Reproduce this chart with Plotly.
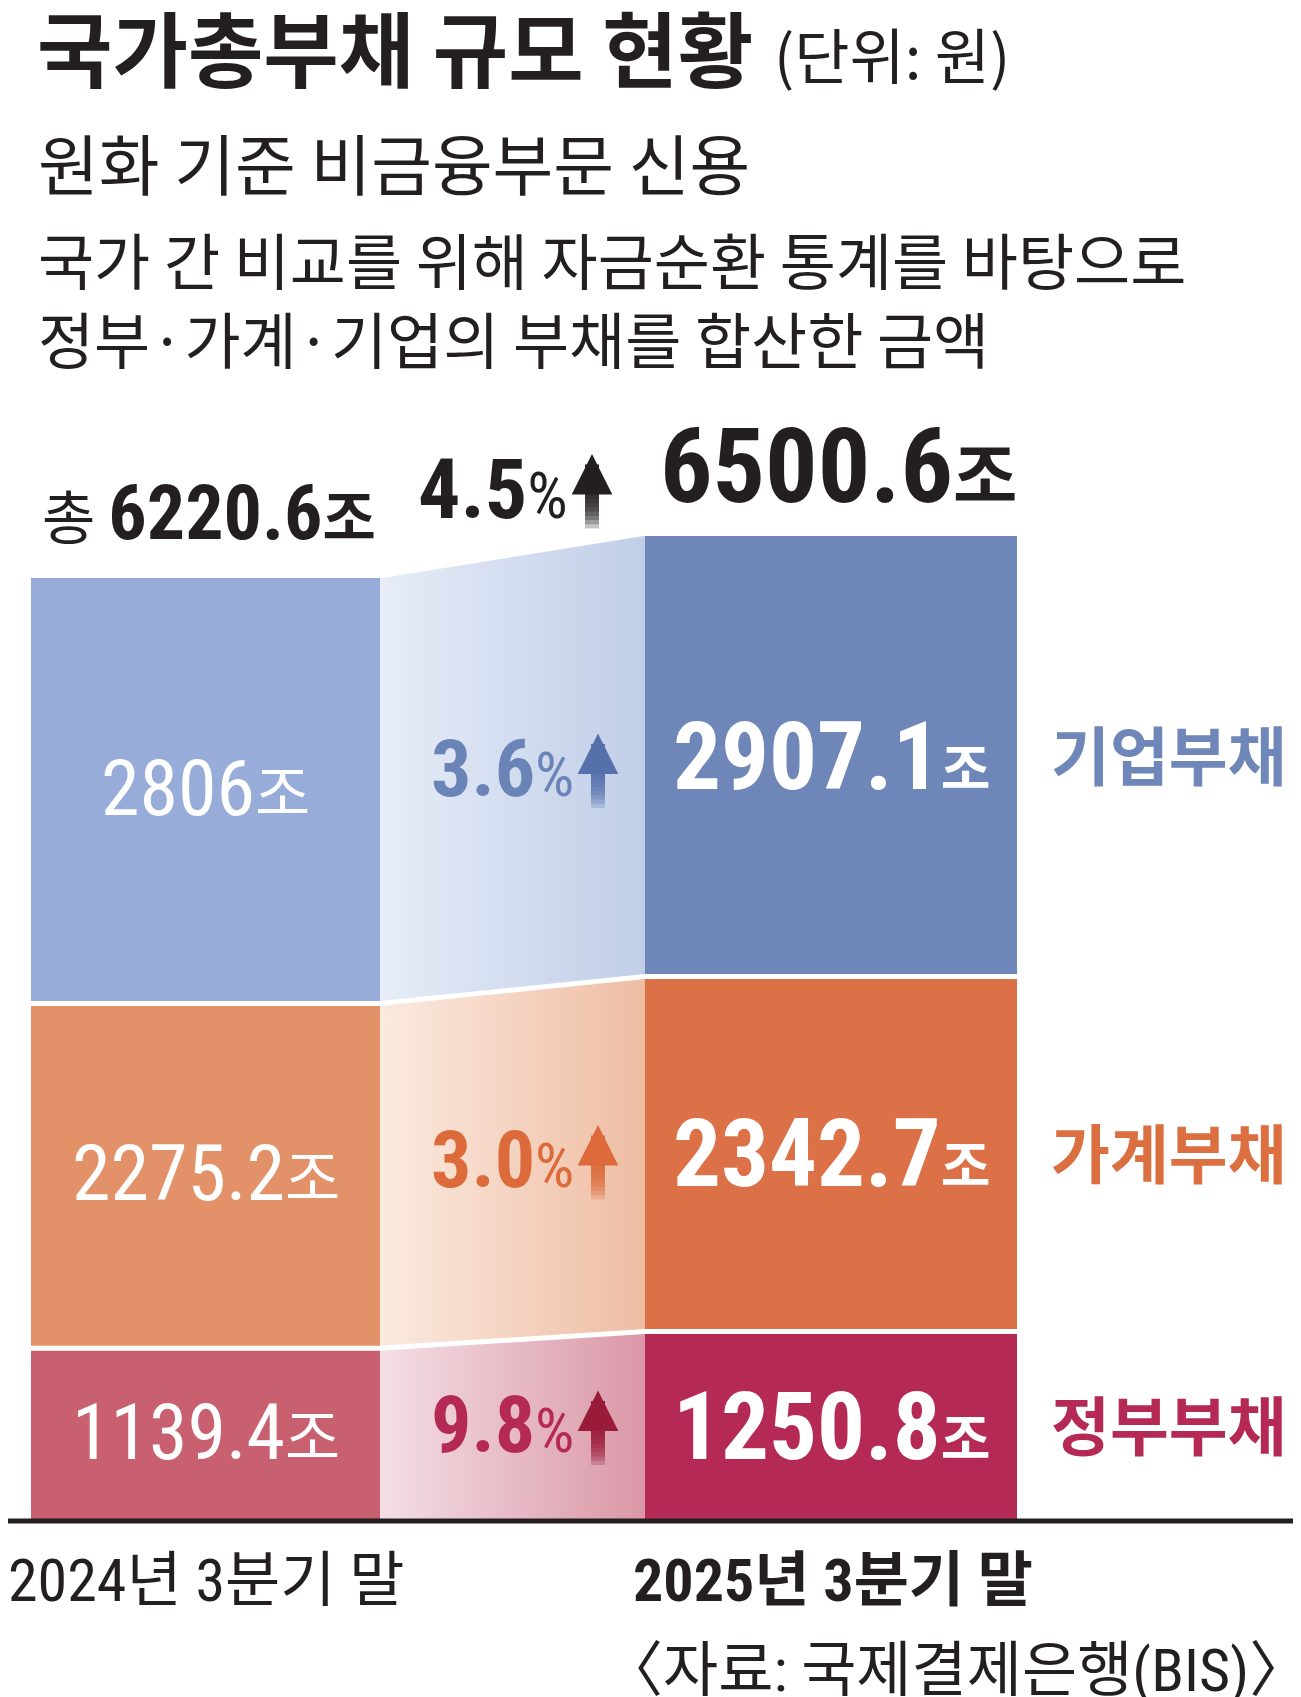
import plotly.graph_objects as go

# 국가총부채 (단위: 조 원), 아래에서부터 쌓는 순서
sectors = ["정부부채", "가계부채", "기업부채"]
debt_2024 = [1139.4, 2275.2, 2806.0]
debt_2025 = [1250.8, 2342.7, 2907.1]
growth = [9.8, 3.0, 3.6]          # 전년 동기 대비 증가율(%)
total_2024 = 6220.6
total_2025 = 6500.6
total_growth = 4.5
periods = ["2024년 3분기 말", "2025년 3분기 말"]

# 색
left_colors = ["#c86070", "#e29169", "#97acd8"]
right_colors = ["#b52a55", "#dc7046", "#6e87b8"]
link_light = ["#f4dfe4", "#fbeae0", "#e7ecf7"]
link_dark = ["#da97a7", "#eebda3", "#c0cee8"]
pct_colors = ["#b52a55", "#dc6a3a", "#6b84b8"]
arrow_rgb = [(154, 26, 58), (220, 106, 58), (85, 112, 171)]
label_colors = ["#b52a55", "#dc6f40", "#6e87b8"]
INK = "#231f20"

# 판 크기와 위치 (px)
W, H = 1301, 1697
BASE = 1513          # y=0 이 놓이는 높이
SCALE = 0.15155      # 1조 원당 px
LEFT = (23, 372)
RIGHT = (637, 1009)

KR = "Noto Sans CJK KR"
NUM = "Roboto Condensed, DejaVu Sans Condensed, Liberation Sans Narrow, Noto Sans CJK KR"


def px(x):
    return x / W


def py(y):
    return 1 - y / H


fig = go.Figure()

# 막대
for i, name in enumerate(sectors):
    fig.add_trace(go.Bar(
        x=[(LEFT[0] + LEFT[1]) / 2, (RIGHT[0] + RIGHT[1]) / 2],
        y=[debt_2024[i], debt_2025[i]],
        width=[LEFT[1] - LEFT[0], RIGHT[1] - RIGHT[0]],
        marker=dict(color=[left_colors[i], right_colors[i]], line_width=0),
        name=name, hoverinfo="skip", showlegend=False,
    ))

# 두 막대를 잇는 그라데이션 띠
cum_l = [sum(debt_2024[:i]) for i in range(len(sectors) + 1)]
cum_r = [sum(debt_2025[:i]) for i in range(len(sectors) + 1)]
for i in range(len(sectors)):
    fig.add_trace(go.Scatter(
        x=[LEFT[1], RIGHT[0], RIGHT[0], LEFT[1], LEFT[1]],
        y=[cum_l[i], cum_r[i], cum_r[i + 1], cum_l[i + 1], cum_l[i]],
        mode="lines", line_width=0, fill="toself",
        fillgradient=dict(type="horizontal",
                          colorscale=[[0, link_light[i]], [1, link_dark[i]]]),
        hoverinfo="skip", showlegend=False,
    ))

# 구간 사이 흰 선
for i in range(1, len(sectors)):
    fig.add_trace(go.Scatter(
        x=[LEFT[0], LEFT[1], RIGHT[0], RIGHT[1]],
        y=[cum_l[i], cum_l[i], cum_r[i], cum_r[i]],
        mode="lines", line=dict(color="white", width=5),
        hoverinfo="skip", showlegend=False,
    ))

fig.add_shape(type="line", xref="paper", yref="y", x0=0, x1=1, y0=0, y1=0,
              line=dict(color=INK, width=5))


def note(text, x, y, size, color=INK, family=KR, anchor="left",
         xref="paper", yref="paper", yshift=0):
    fig.add_annotation(text=text, x=x, y=y, xref=xref, yref=yref, yshift=yshift,
                       xanchor=anchor, yanchor="middle", align="left", showarrow=False,
                       font=dict(size=size, color=color, family=family))


def arrow(x, tip, rgb, head=34, tail=42, width=14):
    # 촉은 진하게, 꼬리는 아래로 갈수록 옅게 (겹쳐 그려 농도를 쌓음)
    fig.add_annotation(x=px(x), y=py(tip), xref="paper", yref="paper", text="",
                       showarrow=True, ax=0, ay=head + 4, arrowhead=2,
                       arrowsize=0.58, arrowwidth=width,
                       arrowcolor="rgb(%d,%d,%d)" % rgb)
    steps = 10
    for k in range(steps):
        fig.add_annotation(x=px(x), y=py(tip + head), xref="paper", yref="paper",
                           text="", showarrow=True, ax=0,
                           ay=tail * (k + 1) / steps, arrowhead=0, arrowwidth=width,
                           arrowcolor="rgba(%d,%d,%d,0.26)" % rgb)


# 제목
note("<b>국가총부채 규모 현황</b>", px(27), py(38), 82)
note("(단위: 원)", px(764), py(44), 60)
note("원화 기준 비금융부문 신용", px(28), py(153), 66)
note("국가 간 비교를 위해 자금순환 통계를 바탕으로<br>정부·가계·기업의 부채를 합산한 금액",
     px(28), py(290), 61)

# 합계
note("총 <b><span style='font-family:%s;font-size:76px'>%.1f</span>조</b>" % (NUM, total_2024),
     px(32), py(505), 58)
note("<b><span style='font-size:104px'>%.1f</span></b>" % total_2025
     + "<b><span style='font-family:Noto Sans CJK KR'>조</span></b>",
     px(830), py(458), 70, family=NUM, anchor="center")
note("<b>%.1f</b><span style='font-size:64px'>%%</span>" % total_growth,
     px(562), py(481), 84, family=NUM, anchor="right")
arrow(584, 446, (35, 31, 32))

# 막대 안 숫자, 증가율, 오른쪽 이름
for i in range(len(sectors)):
    note("%g<span style='font-size:60px;font-family:Noto Sans CJK KR'>조</span>" % debt_2024[i],
         (LEFT[0] + LEFT[1]) / 2, cum_l[i] + debt_2024[i] / 2, 78,
         color="white", family=NUM, anchor="center", xref="x", yref="y", yshift=2)
    note("<b>%.1f<span style='font-size:54px;font-family:Noto Sans CJK KR'>조</span></b>"
         % debt_2025[i],
         (RIGHT[0] + RIGHT[1]) / 2, cum_r[i] + debt_2025[i] / 2, 95,
         color="white", family=NUM, anchor="center", xref="x", yref="y")
    mid = (cum_l[i] + cum_r[i] + (debt_2024[i] + debt_2025[i]) / 2) / 2
    note("<b>%.1f</b><span style='font-size:62px'>%%</span>" % growth[i],
         568, mid, 80, color=pct_colors[i], family=NUM, anchor="right",
         xref="x", yref="y", yshift=5)
    arrow(590, BASE - mid * SCALE - 40, arrow_rgb[i])
    note("<b>%s</b>" % sectors[i], px(1041),
         py(BASE - (cum_r[i] + debt_2025[i] / 2) * SCALE), 64,
         color=label_colors[i], yshift=4)

# 아래 글씨
note(periods[0], px(-2), py(1572), 60, family=NUM)
note("<b>%s</b>" % periods[1], px(623), py(1572), 60, family=NUM)
note("〈자료: 국제결제은행(BIS)〉", px(593), py(1662), 60, family=NUM)

fig.update_layout(
    width=W, height=H, barmode="stack", bargap=0,
    margin=dict(l=0, r=0, t=0, b=0),
    plot_bgcolor="white", paper_bgcolor="white",
    xaxis=dict(range=[0, W], visible=False, fixedrange=True),
    yaxis=dict(range=[-(H - BASE) / SCALE, BASE / SCALE], visible=False, fixedrange=True),
    showlegend=False,
)

fig.write_html("out.html")
